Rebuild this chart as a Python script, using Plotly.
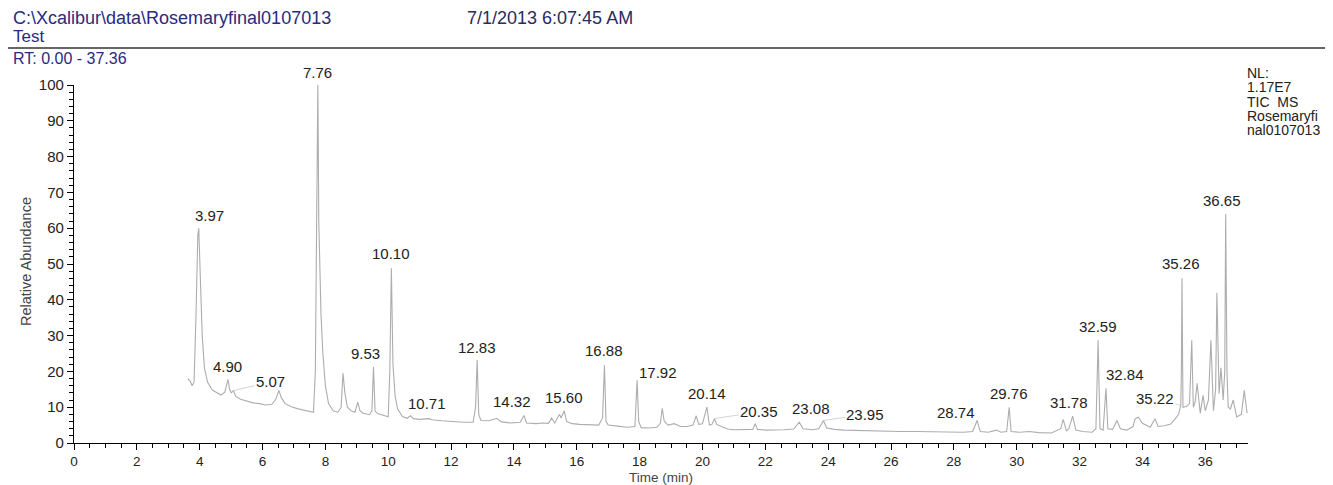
import plotly.graph_objects as go

# ---------------- data ----------------
time_min = [
    3.62, 3.70, 3.76, 3.82, 3.88, 3.94, 3.97, 4.02, 4.08, 4.15, 4.25, 4.40, 4.55, 4.68, 4.80, 4.86, 4.90, 4.95,
    5.00, 5.07, 5.15, 5.30, 5.50, 5.70, 5.90, 6.10, 6.30, 6.42, 6.52, 6.60, 6.72, 6.90, 7.10, 7.30, 7.50, 7.62,
    7.68, 7.71, 7.73, 7.76, 7.79, 7.82, 7.86, 7.92, 8.00, 8.10, 8.25, 8.40, 8.50, 8.56, 8.62, 8.70, 8.82, 8.94,
    9.03, 9.10, 9.20, 9.40, 9.48, 9.53, 9.58, 9.66, 9.85, 10.00, 10.05, 10.10, 10.15, 10.22, 10.30, 10.45, 10.60,
    10.71, 10.80, 11.00, 11.30, 11.40, 11.70, 12.00, 12.40, 12.70, 12.78, 12.83, 12.88, 12.95, 13.20, 13.45,
    13.60, 13.90, 14.20, 14.32, 14.40, 14.70, 14.90, 15.10, 15.20, 15.30, 15.45, 15.50, 15.60, 15.68, 15.85,
    16.10, 16.40, 16.70, 16.82, 16.88, 16.93, 17.00, 17.30, 17.60, 17.85, 17.92, 17.97, 18.05, 18.30, 18.55,
    18.66, 18.72, 18.78, 18.90, 19.10, 19.30, 19.50, 19.70, 19.80, 19.88, 20.00, 20.14, 20.22, 20.30, 20.38,
    20.45, 20.60, 20.80, 21.00, 21.30, 21.60, 21.68, 21.75, 22.00, 22.30, 22.60, 22.90, 23.08, 23.20, 23.50,
    23.70, 23.85, 23.95, 24.20, 24.50, 24.80, 25.30, 25.80, 26.30, 26.80, 27.30, 27.80, 28.30, 28.60, 28.74,
    28.84, 29.10, 29.35, 29.50, 29.68, 29.76, 29.82, 30.10, 30.40, 30.70, 31.10, 31.40, 31.48, 31.58, 31.66,
    31.78, 31.88, 32.10, 32.40, 32.52, 32.59, 32.65, 32.75, 32.84, 32.90, 33.05, 33.19, 33.30, 33.50, 33.70,
    33.77, 33.87, 34.00, 34.25, 34.40, 34.50, 34.70, 34.90, 35.05, 35.15, 35.22, 35.24, 35.26, 35.29, 35.40,
    35.50, 35.57, 35.62, 35.68, 35.74, 35.84, 35.93, 36.00, 36.10, 36.18, 36.26, 36.33, 36.37, 36.44, 36.50,
    36.57, 36.62, 36.65, 36.69, 36.73, 36.80, 36.89, 37.00, 37.15, 37.24, 37.33,
]
rel_abundance = [
    18.0, 17.2, 16.0, 17.0, 35.0, 58.0, 60.0, 45.0, 30.0, 21.0, 17.0, 14.8, 14.0, 13.4, 14.2, 16.5, 17.8, 15.0,
    14.0, 14.6, 13.0, 12.2, 11.6, 11.2, 11.0, 10.6, 10.8, 12.2, 14.7, 12.6, 11.0, 10.2, 9.6, 9.2, 8.8, 8.6,
    20.0, 50.0, 62.0, 100.0, 62.0, 48.0, 36.0, 25.0, 16.0, 11.0, 9.0, 8.6, 10.0, 19.5, 14.0, 10.0, 9.0, 8.6,
    11.4, 9.0, 8.3, 7.9, 9.0, 21.2, 9.0, 8.2, 7.6, 7.3, 20.0, 48.8, 22.0, 13.0, 9.5, 7.4, 6.9,
    7.6, 6.8, 6.6, 6.8, 6.5, 6.2, 6.0, 5.8, 5.8, 10.0, 23.2, 8.0, 6.3, 6.2, 6.9,
    5.9, 5.6, 5.8, 7.7, 5.6, 5.4, 5.6, 5.5, 7.0, 5.6, 8.0, 7.0, 9.0, 6.0, 5.4,
    5.2, 5.0, 5.0, 7.0, 21.7, 6.0, 5.0, 4.7, 4.4, 4.6, 17.5, 6.0, 4.3, 4.2, 4.4,
    5.5, 9.7, 6.2, 5.0, 5.4, 4.6, 4.6, 5.0, 7.6, 5.2, 5.4, 10.0, 5.0, 5.2, 6.8,
    5.2, 4.6, 3.9, 3.7, 3.7, 3.8, 5.4, 3.8, 3.6, 3.6, 3.7, 3.9, 5.8, 4.0, 3.7,
    4.0, 6.3, 4.2, 3.8, 3.6, 3.5, 3.4, 3.3, 3.2, 3.2, 3.1, 3.1, 3.0, 3.2, 6.3,
    3.2, 3.0, 3.6, 3.0, 3.2, 10.0, 3.2, 3.0, 3.2, 2.9, 2.8, 4.0, 6.6, 3.4, 4.0,
    7.5, 3.6, 3.2, 3.0, 4.0, 28.7, 4.0, 3.6, 15.3, 4.0, 3.8, 6.3, 4.0, 3.6, 4.6,
    6.8, 7.2, 5.5, 4.4, 6.8, 4.6, 4.8, 5.3, 6.8, 8.0, 10.5, 20.0, 46.0, 10.0, 10.2,
    11.0, 28.7, 10.0, 11.5, 16.7, 8.3, 13.3, 9.0, 12.0, 28.7, 9.0, 15.0, 42.0, 13.8, 21.0,
    12.0, 20.0, 64.0, 20.0, 10.0, 9.5, 12.0, 7.3, 8.0, 14.7, 8.3,
]

peak_labels = ["3.97", "4.90", "5.07", "7.76", "9.53", "10.10", "10.71", "12.83", "14.32", "15.60",
               "16.88", "17.92", "20.14", "20.35", "23.08", "23.95", "28.74", "29.76", "31.78",
               "32.59", "32.84", "35.22", "35.26", "36.65"]
peak_times = [3.97, 4.90, 5.07, 7.76, 9.53, 10.10, 10.71, 12.83, 14.32, 15.60,
              16.88, 17.92, 20.14, 20.38, 23.08, 23.85, 28.74, 29.76, 31.78,
              32.59, 32.84, 35.22, 35.26, 36.65]
peak_heights = [60.0, 17.8, 14.6, 100.0, 21.2, 48.8, 7.6, 23.2, 7.7, 9.0,
                21.7, 17.5, 10.0, 6.8, 5.8, 6.3, 6.3, 10.0, 7.5,
                28.7, 15.3, 10.5, 46.0, 64.0]

x_ticks = list(range(0, 38, 2))
y_ticks = list(range(0, 101, 10))

header_path = "C:\\Xcalibur\\data\\Rosemaryfinal0107013"
header_name = "Test"
header_range = "RT: 0.00 - 37.36"
header_stamp = "7/1/2013 6:07:45 AM"
side_lines = ["NL:", "1.17E7", "TIC  MS", "Rosemaryfi", "nal0107013"]

# ---------------- layout helpers ----------------
# the page body has an 8 px margin, so the figure is placed 8 px in from the window corner
OFF = 8
W, H = 1333 - OFF, 485 - OFF
ML, MT = 74 - OFF, 85 - OFF          # plot left / top in figure pixels
PLOT_R, PLOT_B = 1248 - OFF, 443 - OFF
MR, MB = W - PLOT_R, H - PLOT_B
PW, PH = PLOT_R - ML, PLOT_B - MT
FONT = "Liberation Sans, Arial, sans-serif"


def paper(px, py):
    """screen pixel (window coords) -> paper coords"""
    fx, fy = px - OFF, py - OFF
    return (fx - ML) / PW, (PLOT_B - fy) / PH


# label placement: (xshift px, yshift px) for plain labels,
# ("arrow", ax, ay) for labels drawn with a leader line
label_style = {
    "3.97": (11, 2), "4.90": (0, 2), "7.76": (0, 2), "9.53": (-8, 3), "10.10": (0, 4),
    "10.71": (16, 2), "12.83": (0, 2), "14.32": (-12, 3), "15.60": (0, 3), "16.88": (0, 4),
    "20.14": (0, 3), "23.08": (12, 3), "29.76": (0, 3), "31.78": (-4, 3), "32.59": (0, 3),
    "32.84": (19, 3), "35.26": (-1, 4), "36.65": (-4, 3),
    "5.07": ("arrow", 37, -9), "17.92": ("arrow", 21, -8), "20.35": ("arrow", 45, -7),
    "23.95": ("arrow", 42, -6), "28.74": ("arrow", -21, -8), "35.22": ("arrow", -26, -7),
}

fig = go.Figure()
fig.add_trace(go.Scatter(
    x=time_min, y=rel_abundance, mode="lines",
    line=dict(color="#adadad", width=1.1),
    hoverinfo="x+y", showlegend=False,
))

annotations = []
for lab, t, v in zip(peak_labels, peak_times, peak_heights):
    st = label_style[lab]
    if st[0] == "arrow":
        annotations.append(dict(
            x=t, y=v, xref="x", yref="y", text=lab, showarrow=True,
            ax=st[1], ay=st[2], axref="pixel", ayref="pixel",
            arrowhead=0, arrowwidth=0.8, arrowcolor="#c8c8c8", standoff=0,
            font=dict(family=FONT, size=15, color="#222222"),
        ))
    else:
        annotations.append(dict(
            x=t, y=v, xref="x", yref="y", text=lab, showarrow=False,
            xanchor="center", yanchor="bottom", xshift=st[0], yshift=st[1],
            font=dict(family=FONT, size=15, color="#222222"),
        ))


def add_text(txt, px, py, size=14, color="#2a2a80", xanchor="left", angle=0):
    x, y = paper(px, py)
    annotations.append(dict(
        x=x, y=y, xref="paper", yref="paper", text=txt, showarrow=False,
        xanchor=xanchor, yanchor="middle", textangle=angle,
        font=dict(family=FONT, size=size, color=color),
    ))


add_text(header_path, 11, 18, size=18)
add_text(header_name, 11, 37, size=17)
add_text(header_range, 11, 58, size=16)
add_text(header_stamp, 465, 18, size=18, color="#2a2a60")
for i, s in enumerate(side_lines):
    add_text(s, 1245, 73 + i * 14.3, size=14, color="#222222")
add_text("Relative Abundance", 26, 262, size=14.5, color="#444444", xanchor="center", angle=-90)
add_text("Time (min)", 661, 477, size=13.5, color="#444444", xanchor="center")

lx0, ly = paper(0, 48)
lx1, _ = paper(1333, 48)

fig.update_layout(
    width=W, height=H,
    margin=dict(l=ML, r=MR, t=MT, b=MB, pad=0),
    paper_bgcolor="white", plot_bgcolor="white",
    annotations=annotations,
    shapes=[dict(type="line", xref="paper", yref="paper", x0=lx0, x1=lx1, y0=ly, y1=ly,
                 line=dict(color="#333333", width=1.5))],
    xaxis=dict(
        range=[0, 37.36], tickvals=x_ticks, ticktext=[str(v) for v in x_ticks],
        showgrid=False, zeroline=False, showline=True, linecolor="black", linewidth=1.2,
        ticks="outside", ticklen=6, tickwidth=1.2, tickcolor="black",
        minor=dict(dtick=0.5, tick0=0, ticks="outside", ticklen=4, tickwidth=1.2, tickcolor="black"),
        tickfont=dict(family=FONT, size=13.5, color="#222222"),
    ),
    yaxis=dict(
        range=[0, 100], tickvals=y_ticks, ticktext=[str(v) for v in y_ticks],
        showgrid=False, zeroline=False, showline=True, linecolor="black", linewidth=1.2,
        ticks="outside", ticklen=6, tickwidth=1.2, tickcolor="black",
        minor=dict(dtick=2, tick0=0, ticks="outside", ticklen=4, tickwidth=1.2, tickcolor="black"),
        tickfont=dict(family=FONT, size=15, color="#222222"),
    ),
)

fig.write_html("out.html")
